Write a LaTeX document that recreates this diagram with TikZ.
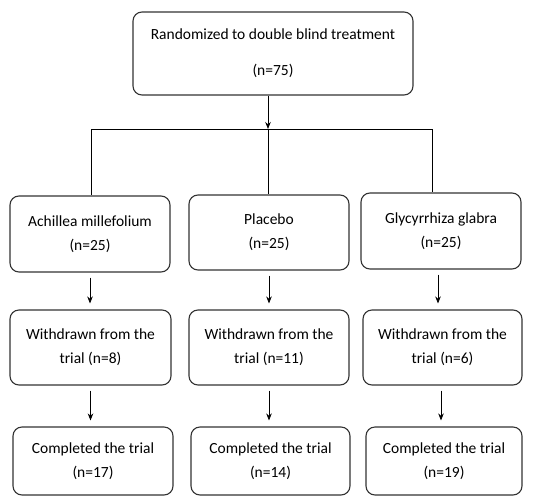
\documentclass[tikz,border=0pt]{standalone}
\usepackage{fontspec}
\setmainfont{Carlito}
\usetikzlibrary{arrows.meta,positioning}

\begin{document}
\begin{tikzpicture}[x=1pt,y=1pt,
  box/.style={draw=black!80,line width=1.1pt,rounded corners=9pt,align=center,
    inner sep=0pt,minimum width=160pt,minimum height=75pt,
    font=\fontsize{15.5}{24}\selectfont},
  arr/.style={-{Stealth[length=7pt,width=5.5pt]},line width=0.8pt,
    shorten <=5pt,shorten >=6pt},
  link/.style={line width=0.8pt}]
\useasboundingbox (0,0) rectangle (533,-496);
% top box
\node[box,minimum width=280pt,minimum height=83pt] (rand) at (273,-53.5)
  {Randomized to double blind treatment\\[12pt](n=75)};
% groups
\node[box,minimum height=76pt] (ach) at (90,-234) {Achillea millefolium\\(n=25)};
\node[box] (plac) at (269,-232.5) {Placebo\\(n=25)};
\node[box,minimum height=76pt] (gly) at (441,-231) {Glycyrrhiza glabra\\(n=25)};
% withdrawn
\node[box,minimum width=161pt] (achw) at (90.5,-347.5) {Withdrawn from the\\trial (n=8)};
\node[box] (placw) at (269,-347.5) {Withdrawn from the\\trial (n=11)};
\node[box,minimum width=159pt] (glyw) at (442.5,-347.5) {Withdrawn from the\\trial (n=6)};
% completed
\node[box,minimum height=68pt] (achc) at (93,-461) {Completed the trial\\(n=17)};
\node[box,minimum width=159pt,minimum height=68pt] (placc) at (270.5,-461) {Completed the trial\\(n=14)};
\node[box,minimum width=156pt,minimum height=68pt] (glyc) at (444,-461) {Completed the trial\\(n=19)};
% split
\coordinate (split) at (268,-129);
\coordinate (splitL) at (91,-129);
\coordinate (splitR) at (432,-129);
\draw[-{Stealth[length=7pt,width=5.5pt]},line width=0.8pt] (rand.south -| split) -- (split);
\draw[link] (splitL) -- (splitR);
\draw[link] (splitL) -- (splitL |- ach.north);
\draw[link] (split) -- (split |- plac.north);
\draw[link] (splitR) -- (splitR |- gly.north);
% arrows down
\draw[arr] (ach.south) -- (achw.north -| ach.south);
\draw[arr] (plac.south) -- (placw.north -| plac.south);
\draw[arr] ([xshift=-3pt]gly.south) -- ([xshift=-3pt]glyw.north -| gly.south);
\draw[arr] (achw.south) -- (achc.north -| achw.south);
\draw[arr] (placw.south) -- (placc.north -| placw.south);
\draw[arr] ([xshift=-1.5pt]glyw.south) -- ([xshift=-1.5pt]glyc.north -| glyw.south);
\end{tikzpicture}
\end{document}
